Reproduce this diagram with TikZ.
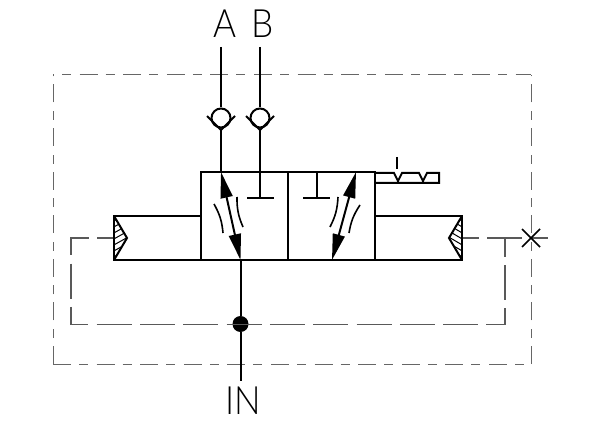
\documentclass[tikz,border=0pt]{standalone}
\usepackage{fontspec}
\setmainfont{Lato}[UprightFont=* Light]
\usetikzlibrary{arrows.meta}
\tikzset{
    portlabel/.style = {font=\fontsize{39}{39}\selectfont, inner sep=0pt, xscale=0.9},
    checkball/.style = {circle, draw=black, line width=2pt, fill=white, minimum size=19pt, inner sep=0pt},
    pilotdot/.style = {circle, fill=black, minimum size=16pt, inner sep=0pt},
    edgen/.style = {-, line width=2pt, black},
    edgep/.style = {-, line width=1.3pt, black!65, dash pattern=on 35pt off 8.3pt, dash phase=18pt},
    edgeo/.style = {-, line width=1pt, black!60, dash pattern=on 18pt off 8pt on 9pt off 8.6pt},
    edgef/.style = {{Triangle[length=26pt,width=12pt]}-{Triangle[length=26pt,width=12pt]}, line width=2pt, black},
    edgec/.style = {-, line width=1.6pt, black},
}
\begin{document}
\begin{tikzpicture}[x=1pt, y=-1pt]
\useasboundingbox (0,0) rectangle (600,425);
\draw[edgeo] (53,364) -- (53,75);
\draw[edgeo, dash phase=17pt] (53,75) -- (531,75);
\draw[edgeo] (53,364) -- (531,364);
\draw[edgeo] (531,364) -- (531,75);
%
\node[portlabel] at (225,23.5) (a) {A};
\node[portlabel] at (263,23.5) (b) {B};
\node[portlabel] at (243,401) (in) {IN};
\node[checkball] at (221,118) (checka) {};
\node[checkball] at (260,118) (checkb) {};
\node[pilotdot] at (240.5,324) (dot) {};
%
\coordinate (atop) at (221,47);
\coordinate (btop) at (260,47);
\coordinate (avee) at (221,130);
\coordinate (bvee) at (260,130);
\coordinate (inend) at (240.5,381);
\coordinate (boxa) at (221,172);
\coordinate (boxb) at (260,172);
\coordinate (boxc) at (240.5,260);
\coordinate (boxd) at (317,172);
\coordinate (tl) at (201,172);
\coordinate (bl) at (201,260);
\coordinate (tr) at (375,172);
\coordinate (br) at (375,260);
\coordinate (tm) at (288,172);
\coordinate (bm) at (288,260);
%
\draw[edgep] (114,238) -- (71,238) -- (71,324.5) -- (505,324.5) -- (505,238);
\draw[edgep] (462,238) -- (548,238);
%
\draw[edgen] (atop) -- (checka);
\draw[edgen] (btop) -- (checkb);
\draw[edgen] (207,116) -- (avee) -- (235,116);
\draw[edgen] (246,116) -- (bvee) -- (274,116);
\draw[edgen] (avee) -- (boxa);
\draw[edgen] (bvee) -- (boxb);
\draw[edgen] (tl) rectangle (br);
\draw[edgen] (tm) -- (bm);
\draw[edgen] (boxc) -- (dot);
\draw[edgen] (dot) -- (inend);
%
\draw[edgen] (boxb) -- (260,198) (247,198) -- (274,198);
\draw[edgen] (boxd) -- (317,198) (303,198) -- (330,198);
\draw[edgef] (boxa) -- (boxc);
\draw[edgef] (356,172) -- (332,260);
\draw[edgec] (214,204) to[bend left=12] (223,233);
\draw[edgec] (237,197) to[bend right=12] (243,227);
\draw[edgec] (338,197) to[bend left=12] (330,227);
\draw[edgec] (360,205) to[bend right=12] (349,233);
%
\draw[edgen] (201,216) -- (114,216) -- (114,260) -- (201,260);
\draw[edgen] (375,216) -- (462,216) -- (462,260) -- (375,260);
\draw[edgen] (114,216) -- (127,238) -- (114,260);
\draw[edgen] (462,216) -- (449,238) -- (462,260);
\begin{scope}
\clip (114,216) -- (127,238) -- (114,260) -- cycle;
\foreach \y in {216,222,...,270}
    \draw[line width=1pt] (112,\y) -- (130,\y-10);
\end{scope}
\begin{scope}
\clip (462,216) -- (449,238) -- (462,260) -- cycle;
\foreach \y in {206,212,...,260}
    \draw[line width=1pt] (447,\y) -- (464,\y+10);
\end{scope}
%
\draw[edgen] (375,173) -- (394,173) -- (398,181) -- (402,173) -- (419,173) -- (423,181) -- (427,173) -- (439,173) -- (439,183) -- (375,183);
\draw[edgen, line width=1.5pt] (397,157) -- (397,169);
%
\draw[edgen, line width=1.5pt] (522,229) -- (540,247);
\draw[edgen, line width=1.5pt] (522,247) -- (540,229);
\end{tikzpicture}
\end{document}
